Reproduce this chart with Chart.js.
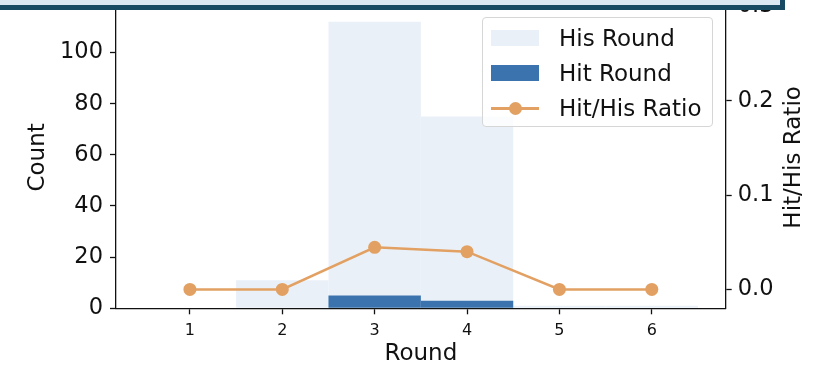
<!DOCTYPE html>
<html>
<head>
<meta charset="utf-8">
<script src="https://cdn.jsdelivr.net/npm/chart.js@4.4.1/dist/chart.umd.min.js"></script>
<style>
  body { margin: 0; background: #fff; font-family: "DejaVu Sans", sans-serif; }
  #wrap { position: relative; width: 820px; height: 368px; overflow: hidden; }
  #banner { position: absolute; left: -10px; top: -20px; width: 795px; height: 29.5px;
    box-sizing: border-box; background: #dbe7f3; border: 5px solid #184a63; }
  #legend { position: absolute; left: 482px; top: 17px; width: 231px; height: 110px;
    box-sizing: border-box; background: rgba(255,255,255,0.8); border: 1px solid #d6d6d6;
    border-radius: 4px; }
  .row { position: absolute; left: 0; height: 34px; width: 100%; }
  .row .key { position: absolute; left: 8px; top: 9px; width: 48px; height: 16px; }
  .row .txt { position: absolute; left: 76px; top: 0; line-height: 34px; font-size: 23px; color: #111; white-space: nowrap; }
  .row .ln { position: absolute; left: 8px; top: 16px; width: 48px; height: 2.5px; }
  .row .dot { position: absolute; left: 26px; top: 11px; width: 13px; height: 13px; border-radius: 50%; }
</style>
</head>
<body>
<div id="wrap">
  <canvas id="c" width="820" height="368"></canvas>
  <div id="banner"></div>
  <div id="legend"></div>
</div>
<script>
// 資料
var rounds = [1, 2, 3, 4, 5, 6];
var hisRound = [0, 11, 112, 75, 1, 1];
var hitRound = [0, 0, 5, 3, 0, 0];
var hitHisRatio = [0, 0, 0.0446, 0.040, 0, 0];
var countTicks = [0, 20, 40, 60, 80, 100];
var ratioTicks = [0, 0.1, 0.2, 0.3];
var labels = ['His Round', 'Hit Round', 'Hit/His Ratio'];

var colors = { his: '#eaf0f8', hit: '#3a73ad', ratio: '#e2a162' };
var ink = '#111';

function pts(arr) {
  return rounds.map(function(r, i) { return { x: r, y: arr[i] }; });
}

// 不讓刻度文字撐開繪圖區
function noPad(s) {
  s.paddingTop = 0; s.paddingBottom = 0; s.paddingLeft = 0; s.paddingRight = 0;
}

// 右側軸標題，matplotlib 是由下往上讀
var rightTitle = {
  id: 'rightTitle',
  afterDraw: function(chart) {
    var ctx = chart.ctx, a = chart.chartArea;
    ctx.save();
    ctx.translate(794, (a.top + a.bottom) / 2);
    ctx.rotate(-Math.PI / 2);
    ctx.font = '23px "DejaVu Sans"';
    ctx.fillStyle = ink;
    ctx.textAlign = 'center';
    ctx.textBaseline = 'middle';
    ctx.fillText('Hit/His Ratio', 0, 0);
    ctx.restore();
  }
};

var axisFont = { family: 'DejaVu Sans', size: 23 };
var tickFont = { family: 'DejaVu Sans', size: 22.5 };

new Chart(document.getElementById('c'), {
  type: 'bar',
  data: {
    datasets: [
      { type: 'line', label: labels[2], data: pts(hitHisRatio), yAxisID: 'y2', order: 0,
        borderColor: colors.ratio, backgroundColor: colors.ratio, borderWidth: 2.5,
        pointRadius: 6.5, pointHoverRadius: 6.5, pointBorderWidth: 0, tension: 0 },
      { label: labels[1], data: pts(hitRound), yAxisID: 'y', order: 1, backgroundColor: colors.hit,
        borderWidth: 0, inflateAmount: 0, grouped: false, barPercentage: 1, categoryPercentage: 1 },
      { label: labels[0], data: pts(hisRound), yAxisID: 'y', order: 2, backgroundColor: colors.his,
        borderWidth: 0, inflateAmount: 0, grouped: false, barPercentage: 1, categoryPercentage: 1 }
    ]
  },
  options: {
    responsive: false,
    animation: false,
    layout: { padding: { top: 4, left: 0, right: 0, bottom: 0 } },
    plugins: { legend: { display: false }, tooltip: { enabled: false } },
    scales: {
      x: {
        type: 'linear', min: 0.2, max: 6.8, offset: false,
        afterBuildTicks: function(s) { s.ticks = rounds.map(function(v) { return { value: v }; }); },
        afterFit: function(s) { s.height = 59.7; noPad(s); },
        ticks: { font: { family: 'DejaVu Sans', size: 16 }, color: ink, padding: 7 },
        grid: { drawOnChartArea: false, offset: false, tickLength: 6, tickColor: ink, tickWidth: 1.3 },
        border: { color: ink, width: 1.3 },
        title: { display: true, text: 'Round', font: axisFont, color: ink, padding: { top: 0, bottom: 0 } }
      },
      y: {
        position: 'left', min: 0, max: 118,
        afterBuildTicks: function(s) { s.ticks = countTicks.map(function(v) { return { value: v }; }); },
        afterFit: function(s) { s.width = 116; noPad(s); },
        ticks: { font: tickFont, color: ink, padding: 7 },
        grid: { drawOnChartArea: false, tickLength: 6, tickColor: ink, tickWidth: 1.3 },
        border: { color: ink, width: 1.3 },
        title: { display: true, text: 'Count', font: axisFont, color: ink, padding: { top: 24, bottom: 0 } }
      },
      y2: {
        position: 'right', min: -0.02, max: 0.3,
        afterBuildTicks: function(s) { s.ticks = ratioTicks.map(function(v) { return { value: v }; }); },
        afterFit: function(s) { s.width = 94.3; noPad(s); },
        ticks: { font: tickFont, color: ink, padding: 6, callback: function(v) { return v.toFixed(1); } },
        grid: { drawOnChartArea: false, tickLength: 6, tickColor: ink, tickWidth: 1.3 },
        border: { color: ink, width: 1.3 }
      }
    }
  },
  plugins: [rightTitle]
});

// 圖例（放在繪圖區右上角）
var lg = document.getElementById('legend');
var keys = [
  '<div class="key" style="background:' + colors.his + '"></div>',
  '<div class="key" style="background:' + colors.hit + '"></div>',
  '<div class="ln" style="background:' + colors.ratio + '"></div><div class="dot" style="background:' + colors.ratio + '"></div>'
];
for (var i = 0; i < labels.length; i++) {
  lg.innerHTML += '<div class="row" style="top:' + (3 + i * 35) + 'px">' + keys[i] +
    '<div class="txt">' + labels[i] + '</div></div>';
}
</script>
</body>
</html>
